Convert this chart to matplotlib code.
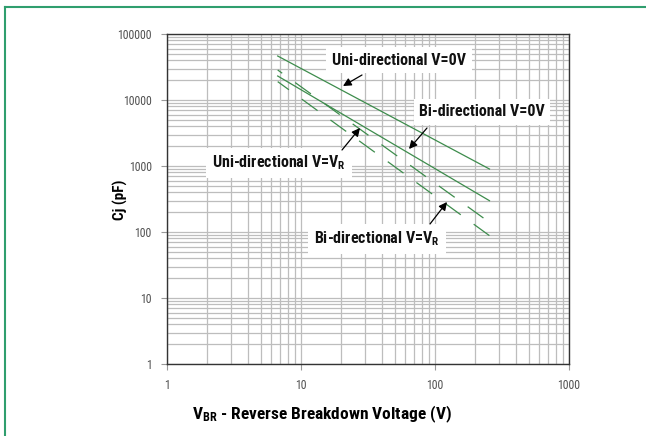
import numpy as np
import matplotlib
matplotlib.use("Agg")
import matplotlib.pyplot as plt
from matplotlib.lines import Line2D
from matplotlib.patches import FancyArrowPatch

plt.rcParams['font.family'] = ['Roboto Condensed', 'DejaVu Sans']
plt.rcParams['mathtext.fontset'] = 'custom'
plt.rcParams['mathtext.rm'] = 'Roboto Condensed:bold'
plt.rcParams['mathtext.bf'] = 'Roboto Condensed:bold'
plt.rcParams['lines.scale_dashes'] = False

# breakdown voltage range of the curves (V)
vbr = [6.7, 255]
# junction capacitance (pF) at the two ends
uni_0v = [46400, 900]
bi_0v = [23100, 298]
uni_vr = [28500, 140]
bi_vr = [19000, 88]

green = '#3d8c4c'

fig = plt.figure(figsize=(6.46, 4.36), dpi=100)
ax = fig.add_axes([167/646, 1-364/436, 402/646, 330/436])

ax.plot(vbr, uni_0v, color=green, lw=0.9)
ax.plot(vbr, bi_0v, color=green, lw=0.9)
ax.plot(vbr, uni_vr, color=green, lw=0.9, ls=(10, (14, 11.5)))
ax.plot(vbr, bi_vr, color=green, lw=0.9, ls=(4, (14, 11.5)))

ax.set_xscale('log')
ax.set_yscale('log')
ax.set_xlim(1, 1000)
ax.set_ylim(1, 100000)
ax.set_xticks([1, 10, 100, 1000])
ax.set_xticklabels(['1', '10', '100', '1000'])
ax.set_yticks([1, 10, 100, 1000, 10000, 100000])
ax.set_yticklabels(['1', '10', '100', '1000', '10000', '100000'])
ax.minorticks_on()
ax.grid(True, which='both', color='#bdbdbd', lw=0.9)
ax.set_axisbelow(True)
ax.tick_params(which='major', length=4, width=0.8, color='#999999',
               labelsize=8.5, labelcolor='#505050', pad=7)
ax.tick_params(which='minor', length=0)
for s in ax.spines.values():
    s.set_color('#333333')
    s.set_linewidth(1.0)

# labels (centre in figure pixels from top-left)
box = dict(facecolor='white', edgecolor='none', pad=4)
labels = [('Uni-directional V=0V', 399, 60),
          ('Bi-directional V=0V', 482, 112),
          ('Uni-directional V=$\\mathbf{V_R}$', 279, 163),
          ('Bi-directional V=$\\mathbf{V_R}$', 377, 239)]
for txt, x, y in labels:
    fig.text(x / 646, 1 - y / 436, txt, fontsize=11.5, fontweight='bold', color='#111111',
             ha='center', va='center', bbox=box, zorder=5)

# arrows: (tail, head) in figure pixels from top-left
arrows = [((362, 75), (343, 86)),
          ((427, 128), (409, 149)),
          ((342, 150), (360, 128)),
          ((430, 224), (447, 202))]
for (tx, ty), (hx, hy) in arrows:
    fig.add_artist(FancyArrowPatch((tx / 646, 1 - ty / 436), (hx / 646, 1 - hy / 436),
                                   transform=fig.transFigure, arrowstyle='-|>',
                                   color='black', lw=0.9, mutation_scale=12,
                                   shrinkA=0, shrinkB=0, zorder=6))

fig.text(120/646, 1-200/436, 'Cj (pF)', rotation=90, fontsize=11, fontweight='bold',
         ha='center', va='center')
fig.text(322/646, 1-414/436, '$\\mathbf{V_{BR}}$ - Reverse Breakdown Voltage (V)',
         fontsize=12.5, fontweight='bold', ha='center', va='center')

# green frame (top and left)
fig.add_artist(Line2D([5/646, 1], [1-7/436, 1-7/436], color='#2f9e6e', lw=1.5,
                      transform=fig.transFigure))
fig.add_artist(Line2D([5/646, 5/646], [0, 1-7/436], color='#2f9e6e', lw=1.5,
                      transform=fig.transFigure))

fig.savefig('out.png', dpi=100)
